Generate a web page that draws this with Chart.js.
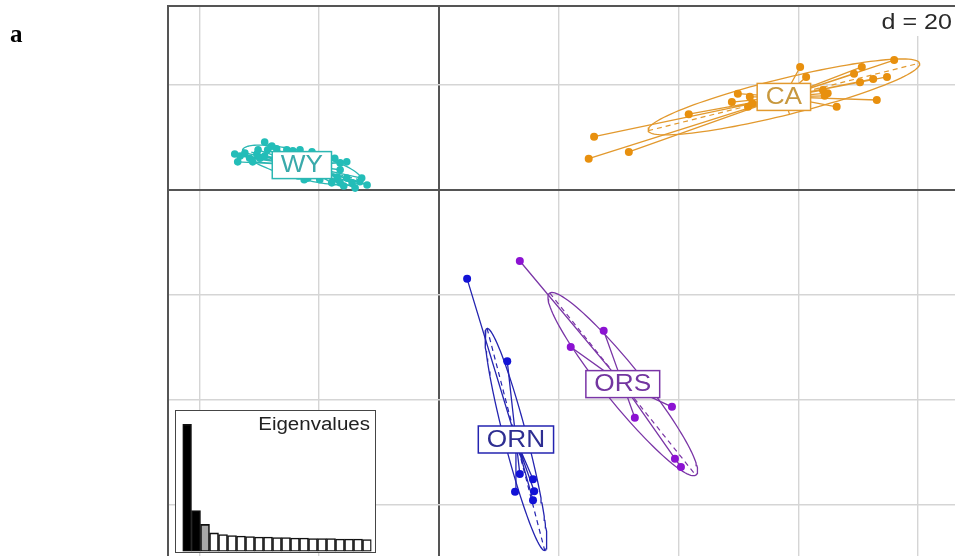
<!DOCTYPE html>
<html>
<head>
<meta charset="utf-8">
<script src="https://cdn.jsdelivr.net/npm/chart.js@4"></script>
<style>
  html, body { margin: 0; padding: 0; background: #fff; }
  #wrap { position: relative; width: 955px; height: 556px; overflow: hidden; background: #fff; }
  #main { position: absolute; left: 0; top: 0; }
  #eigBox { position: absolute; left: 175px; top: 409.5px; width: 199px; height: 141px;
            border: 1.5px solid #454545; background: #fff; }
  #eig { display: block; }
</style>
</head>
<body>
<div id="wrap">
  <canvas id="main" width="1000" height="600"></canvas>
  <div id="eigBox"><canvas id="eig" width="199" height="141"></canvas></div>
</div>
<script>
// ---- discriminant scores per population (axis 1, axis 2) ----
const groupNames = ['WY', 'CA', 'ORN', 'ORS'];

const wyX = [-34.1,-33.2,-32.4,-31.6,-30.4,-31.1,-29.9,-29.1,-29.1,-27.9,-27.1,-28.6,-27.4,-25.4,-24.4,-23.2,-21.2,-19.0,-17.4,-16.5,-15.4,-16.5,-17.0,-17.9,-16.5,-15.4,-14.5,-13.2,-12.0,-15.9,-30.2,-33.6,-23.5,-21.9,-20.5,-24.9,-19.9,-21.2,-22.5,-14.0,-12.9];
const wyY = [6.8,6.4,7.0,6.0,6.8,5.3,6.0,6.4,9.1,8.3,7.8,7.6,5.9,7.6,7.4,7.6,7.2,6.6,6.0,5.1,5.3,3.8,2.4,1.3,1.3,2.2,1.3,1.5,0.9,0.7,7.6,5.3,2.6,2.2,3.4,3.0,1.9,4.1,1.9,0.3,2.2];

const caX = [25.9,25.0,31.7,41.7,49.9,48.9,51.9,51.6,52.3,60.3,61.3,64.1,64.9,64.4,66.4,73.1,70.6,69.3,76.0,70.3,72.5,74.8];
const caY = [10.1,5.9,7.2,14.4,18.3,16.7,17.7,15.8,16.5,23.4,21.5,19.0,18.4,17.9,15.8,17.1,23.4,22.1,24.7,20.5,21.1,21.5];

const ornX = [4.7,11.4,13.5,15.7,12.7,15.9,15.7,13.2];
const ornY = [-17.0,-32.7,-54.2,-55.2,-57.6,-57.5,-59.2,-47.7];

const orsX = [13.5,27.5,22.0,32.7,38.9,39.4,40.4,30.2,31.6];
const orsY = [-13.6,-26.9,-30.0,-43.5,-41.4,-51.3,-52.9,-35.9,-38.2];

// grid positions (d = 20)
const gridX = [-40, -20, 0, 20, 40, 60, 80];
const gridY = [20, 0, -20, -40, -60];
const gridLabel = 'd = 20';

// eigenvalue inset
const eigenRank = [1,2,3,4,5,6,7,8,9,10,11,12,13,14,15,16,17,18,19,20,21];
const eigenValues = [100,32.3,21.3,14.6,13.4,12.6,12.2,11.8,11.4,11.4,11.0,11.0,10.6,10.6,10.2,10.2,10.2,9.8,9.8,9.8,9.4];

// ---- styling ----
const groupStyle = {
  WY:  { point: '#23BDB8', line: '#2CB7B3', text: '#3AAAAB', radius: 3.8 },
  CA:  { point: '#E8900E', line: '#E2992E', text: '#C8983E', radius: 4 },
  ORN: { point: '#1212D6', line: '#2424B0', text: '#2E2E92', radius: 4 },
  ORS: { point: '#8C12D2', line: '#7A35A6', text: '#7336A0', radius: 4 }
};
const groupData = { WY: [wyX, wyY], CA: [caX, caY], ORN: [ornX, ornY], ORS: [orsX, orsY] };
const TEXT_STRETCH = 1.14;
const GAP = { x: null, y: null };

// mean and 1.5-sd covariance ellipse of a group
function groupEllipse(xs, ys) {
  const n = xs.length;
  const mx = xs.reduce((s, v) => s + v, 0) / n;
  const my = ys.reduce((s, v) => s + v, 0) / n;
  let sxx = 0, syy = 0, sxy = 0;
  for (let i = 0; i < n; i++) {
    const dx = xs[i] - mx, dy = ys[i] - my;
    sxx += dx * dx; syy += dy * dy; sxy += dx * dy;
  }
  sxx /= n; syy /= n; sxy /= n;
  const half = (sxx + syy) / 2;
  const d = Math.sqrt(((sxx - syy) / 2) ** 2 + sxy * sxy);
  const l1 = half + d, l2 = Math.max(half - d, 0);
  const th = 0.5 * Math.atan2(2 * sxy, sxx - syy);
  return { mx, my, a: 1.5 * Math.sqrt(l1), b: 1.5 * Math.sqrt(l2), th };
}

const stats = {};
groupNames.forEach(g => { stats[g] = groupEllipse(groupData[g][0], groupData[g][1]); });

const datasets = [];
groupNames.forEach(g => {
  const [xs, ys] = groupData[g];
  const st = stats[g];
  const sty = groupStyle[g];
  const ux = Math.cos(st.th), uy = Math.sin(st.th);
  const vx = -uy, vy = ux;

  // ellipse outline
  const outline = [];
  for (let k = 0; k <= 120; k++) {
    const t = (k / 120) * Math.PI * 2;
    const c = Math.cos(t) * st.a, s = Math.sin(t) * st.b;
    outline.push({ x: st.mx + c * ux + s * vx, y: st.my + c * uy + s * vy });
  }
  datasets.push({ data: outline, showLine: true, borderColor: sty.line, borderWidth: 1.3,
                  pointRadius: 0, order: 3, tension: 0 });
  // ellipse axes (dashed)
  datasets.push({ data: [
      { x: st.mx - st.a * ux, y: st.my - st.a * uy }, { x: st.mx + st.a * ux, y: st.my + st.a * uy }, GAP,
      { x: st.mx - st.b * vx, y: st.my - st.b * vy }, { x: st.mx + st.b * vx, y: st.my + st.b * vy }],
    showLine: true, spanGaps: false, borderColor: sty.line, borderWidth: 1.2, borderDash: [5, 4],
    pointRadius: 0, order: 3 });
  // star segments to the group mean
  const star = [];
  xs.forEach((x, i) => { star.push({ x, y: ys[i] }, { x: st.mx, y: st.my }, GAP); });
  datasets.push({ data: star, showLine: true, spanGaps: false, borderColor: sty.line, borderWidth: 1.3,
                  pointRadius: 0, order: 2 });
  // individuals
  datasets.push({ data: xs.map((x, i) => ({ x, y: ys[i] })), showLine: false,
                  pointRadius: sty.radius, pointBackgroundColor: sty.point, pointBorderWidth: 0, order: 1 });
});

function stretchedText(ctx, text, x, y, align) {
  ctx.save();
  ctx.translate(x, y);
  ctx.scale(TEXT_STRETCH, 1);
  ctx.textAlign = align;
  ctx.fillText(text, 0, 0);
  ctx.restore();
}

const framePlugin = {
  id: 'frame',
  beforeDatasetsDraw(chart) {
    const { ctx, chartArea: a } = chart;
    ctx.save();
    ctx.strokeStyle = '#555';
    ctx.lineWidth = 2;
    ctx.beginPath();
    ctx.moveTo(a.left, a.bottom); ctx.lineTo(a.left, a.top); ctx.lineTo(a.right, a.top);
    ctx.stroke();
    ctx.restore();
  },
  afterDatasetsDraw(chart) {
    const { ctx, scales: { x, y } } = chart;
    // population labels at group means
    groupNames.forEach(g => {
      const st = stats[g], sty = groupStyle[g];
      const cx = x.getPixelForValue(st.mx), cy = y.getPixelForValue(st.my);
      ctx.save();
      ctx.font = '23px "Liberation Sans", Arial, sans-serif';
      const w = ctx.measureText(g).width * TEXT_STRETCH + 17;
      const h = 27;
      ctx.fillStyle = '#fff';
      ctx.fillRect(cx - w / 2, cy - h / 2, w, h);
      ctx.strokeStyle = sty.line;
      ctx.lineWidth = 1.5;
      ctx.strokeRect(cx - w / 2, cy - h / 2, w, h);
      ctx.fillStyle = sty.text;
      ctx.textBaseline = 'middle';
      stretchedText(ctx, g, cx, cy + 1, 'center');
      ctx.restore();
    });
    // grid size box
    ctx.save();
    ctx.fillStyle = '#fff';
    ctx.fillRect(868, 7, 100, 29);
    ctx.fillStyle = '#2a2a2a';
    ctx.font = '22px "Liberation Sans", Arial, sans-serif';
    ctx.textBaseline = 'alphabetic';
    stretchedText(ctx, gridLabel, 952, 29, 'right');
    // panel letter
    ctx.font = 'bold 25px "Liberation Serif", "Times New Roman", serif';
    ctx.fillStyle = '#000';
    ctx.textAlign = 'left';
    ctx.fillText('a', 10, 42);
    ctx.restore();
  }
};

const gridColor = c => (c.tick && c.tick.value === 0 ? '#555' : '#d5d5d5');
const gridWidth = c => (c.tick && c.tick.value === 0 ? 2 : 1.4);

new Chart(document.getElementById('main'), {
  type: 'scatter',
  data: { datasets },
  options: {
    responsive: false,
    animation: false,
    devicePixelRatio: 1,
    layout: { padding: { left: 168, top: 6, right: 10, bottom: 17 } },
    plugins: { legend: { display: false }, tooltip: { enabled: false } },
    scales: {
      x: {
        type: 'linear', position: 'top', min: -45.24, max: 92,
        ticks: { display: false },
        border: { display: false },
        grid: { color: gridColor, lineWidth: gridWidth, drawTicks: false },
        afterBuildTicks: s => { s.ticks = gridX.map(v => ({ value: v })); },
        afterFit: s => { s.height = 0; }
      },
      y: {
        type: 'linear', position: 'left', min: -75, max: 35.02,
        ticks: { display: false },
        border: { display: false },
        grid: { color: gridColor, lineWidth: gridWidth, drawTicks: false },
        afterBuildTicks: s => { s.ticks = gridY.map(v => ({ value: v })); },
        afterFit: s => { s.width = 0; }
      }
    }
  },
  plugins: [framePlugin]
});

// ---- eigenvalue inset ----
const eigTitle = {
  id: 'eigTitle',
  afterDraw(chart) {
    const ctx = chart.ctx;
    ctx.save();
    ctx.fillStyle = '#222';
    ctx.font = '18px "Liberation Sans", Arial, sans-serif';
    ctx.textBaseline = 'alphabetic';
    stretchedText(ctx, 'Eigenvalues', 194, 19, 'right');
    ctx.restore();
  }
};

new Chart(document.getElementById('eig'), {
  type: 'bar',
  data: {
    labels: eigenRank,
    datasets: [{
      data: eigenValues,
      backgroundColor: eigenRank.map((r, i) => (i < 2 ? '#000' : i === 2 ? '#a8a8a8' : '#fff')),
      borderColor: '#111',
      borderWidth: 1.6,
      borderSkipped: false,
      barPercentage: 1,
      categoryPercentage: 1
    }]
  },
  options: {
    responsive: false,
    animation: false,
    devicePixelRatio: 1,
    layout: { padding: { left: 6.5, right: 3.5, top: 2, bottom: 0.5 } },
    plugins: { legend: { display: false }, tooltip: { enabled: false } },
    scales: {
      x: { display: false },
      y: { display: false, min: 0, max: 109 }
    }
  },
  plugins: [eigTitle]
});
</script>
</body>
</html>
